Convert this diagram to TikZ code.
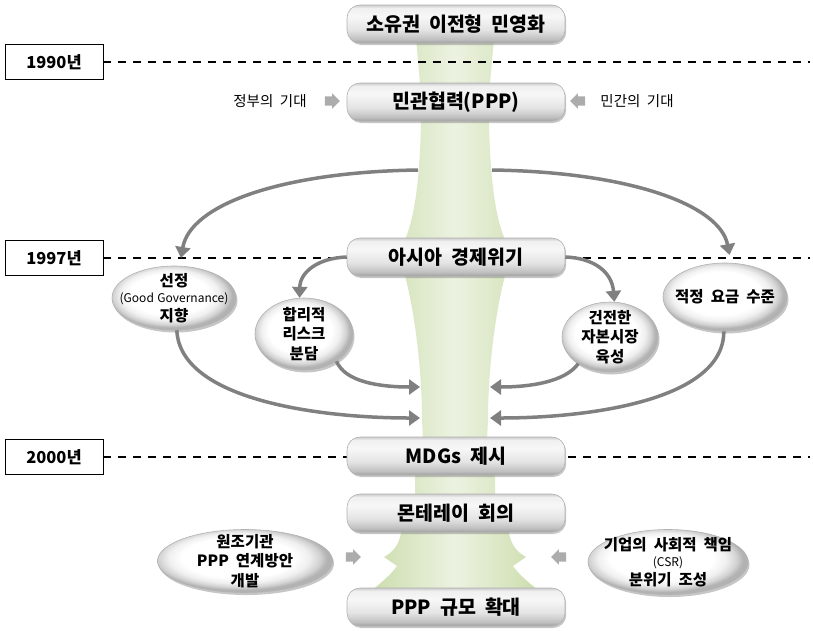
\documentclass[tikz,border=0pt]{standalone}
\usepackage{fontspec}
\setmainfont{Noto Sans CJK KR}[WordSpace=2]
\usetikzlibrary{shapes.geometric,shapes.arrows,arrows.meta,shadows}

\definecolor{gE}{RGB}{204,221,172}
\definecolor{gM}{RGB}{236,242,225}
\definecolor{arr}{RGB}{128,128,128}

\pgfdeclareverticalshading{pillshade}{100bp}{color(0bp)=(gray!75); color(25bp)=(gray!75); color(30bp)=(gray!50); color(42bp)=(gray!22); color(60bp)=(gray!6); color(71bp)=(gray!12); color(75bp)=(gray!40); color(100bp)=(gray!40)}
\pgfdeclareradialshading{ellshade}{\pgfpoint{-3bp}{4bp}}{color(0bp)=(white); color(16bp)=(white); color(20bp)=(gray!12); color(23bp)=(gray!35); color(25bp)=(gray!60); color(50bp)=(gray!60)}

\begin{document}
\begin{tikzpicture}[x=1pt,y=-1pt,
  pill/.style={rounded corners=13pt, minimum width=218pt, minimum height=38pt, shade, shading=pillshade, draw=gray!60, line width=0.6pt, drop shadow={shadow xshift=1.2pt, shadow yshift=-2pt, opacity=0.45}, font=\fontsize{19.5}{22}\selectfont\bfseries, inner sep=0pt},
  ell/.style={ellipse, shade, shading=ellshade, draw=gray!60, line width=0.6pt, drop shadow={shadow xshift=1.5pt, shadow yshift=-2.5pt, opacity=0.45}, align=center, inner sep=-22pt, font=\fontsize{15.5}{19.5}\selectfont\bfseries},
  yr/.style={draw=black, line width=0.9pt, fill=white, minimum width=98pt, minimum height=35pt, font=\fontsize{16.5}{18}\selectfont\bfseries, inner sep=0pt},
  blk/.style={single arrow, fill=gray!65, draw=none, minimum height=15pt, inner sep=4.5pt, single arrow head extend=3pt},
  lab/.style={font=\fontsize{14.5}{16}\selectfont, inner sep=0pt},
  con/.style={draw=arr, line width=3.5pt, -{Triangle[length=11pt,width=15pt]}},
  dline/.style={draw=black, line width=1.8pt, dash pattern=on 8pt off 7pt}
]
\useasboundingbox (0,0) rectangle (813,630);

% green funnel
\path[left color=gE, right color=gE, middle color=gM]
  (416,38) -- (420,84) -- (421,120) .. controls (420,190) and (412,225) .. (404,242)
  -- (404,272) .. controls (412,300) and (422,360) .. (422,420) -- (423,440)
  -- (415,478) -- (415,494) -- (401,533) .. controls (399,545) and (393,552) .. (384,557)
  -- (397,566) .. controls (390,576) and (378,585) .. (370,592) -- (370,605)
  -- (540,605) -- (540,592) .. controls (532,585) and (520,576) .. (513,566)
  -- (526,557) .. controls (517,552) and (511,545) .. (509,533) -- (495,494)
  -- (495,478) -- (487,440) -- (488,420) .. controls (488,360) and (498,300) .. (506,272)
  -- (506,242) .. controls (498,225) and (490,190) .. (489,120) -- (490,84) -- (494,38) -- cycle;

% year boxes and dashed lines
\node[yr] (y1) at (54,62) {1990년};
\node[yr] (y2) at (54,258) {1997년};
\node[yr] (y3) at (54,457) {2000년};
\coordinate (e1) at (810,62);
\coordinate (e2) at (810,258);
\coordinate (e3) at (810,457);
\draw[dline] (y1.east) -- (e1);
\draw[dline] (y2.east) -- (e2);
\draw[dline] (y3.east) -- (e3);

% pills
\node[pill] (p1) at (456,24) {소유권 이전형 민영화};
\node[pill] (p2) at (456,102) {민관협력(PPP)};
\node[pill] (p3) at (456,257) {아시아 경제위기};
\node[pill] (p4) at (456,456) {MDGs 제시};
\node[pill] (p5) at (456,513) {몬테레이 회의};
\node[pill] (p6) at (456,607) {PPP 규모 확대};

% side labels and block arrows
\node[lab] (gt) at (270,101) {정부의 기대};
\node[blk] (ga) at (330,101) {};
\node[blk, shape border rotate=180] (pa) at (580,101) {};
\node[lab] (pt) at (637,101) {민간의 기대};
\node[blk] (ba1) at (351,557) {};
\node[blk, shape border rotate=180] (ba2) at (561,557) {};

% ellipses
\node[ell, minimum width=124pt, minimum height=64pt] (sel) at (174,298)
  {선정\\[-3pt]{\fontsize{12}{14}\selectfont\mdseries\spaceskip=3.5pt (Good Governance)}\\[-1pt]지향};
\node[ell, minimum width=98pt, minimum height=72pt] (risk) at (304,334) {합리적\\리스크\\분담};
\node[ell, minimum width=96pt, minimum height=70pt] (cap) at (610,337) {건전한\\자본시장\\육성};
\node[ell, minimum width=124pt, minimum height=68pt] (fee) at (725,297) {적정 요금 수준};
\node[ell, minimum width=175pt, minimum height=63pt] (aid) at (245,561) {원조기관\\PPP 연계방안\\개발};
\node[ell, minimum width=160pt, minimum height=65pt] (csr) at (668,562)
  {기업의 사회적 책임\\[-3pt]{\fontsize{12}{14}\selectfont\mdseries (CSR)}\\[-1pt]분위기 조성};

% connectors
\coordinate (gl) at (418,170);
\coordinate (gr) at (492,170);
\coordinate (li1) at (420,387);
\coordinate (li2) at (420,418);
\coordinate (ri1) at (490,387);
\coordinate (ri2) at (490,418);
\draw[con, shorten >=8pt] (gl) .. controls (280,172) and (190,205) .. (sel.80);
\draw[con, shorten >=8pt] (gr) .. controls (630,172) and (720,205) .. (fee.80);
\draw[con] (p3.west) .. controls (318,258) and (300,272) .. (risk.97);
\draw[con] (p3.east) .. controls (594,258) and (612,272) .. (cap.83);
\draw[con] (risk.-40) .. controls (345,382) and (380,387) .. (li1);
\draw[con] (sel.-85) .. controls (180,400) and (320,418) .. (li2);
\draw[con] (cap.-140) .. controls (565,382) and (530,387) .. (ri1);
\draw[con] (fee.-92) .. controls (724,400) and (590,418) .. (ri2);
\end{tikzpicture}
\end{document}
